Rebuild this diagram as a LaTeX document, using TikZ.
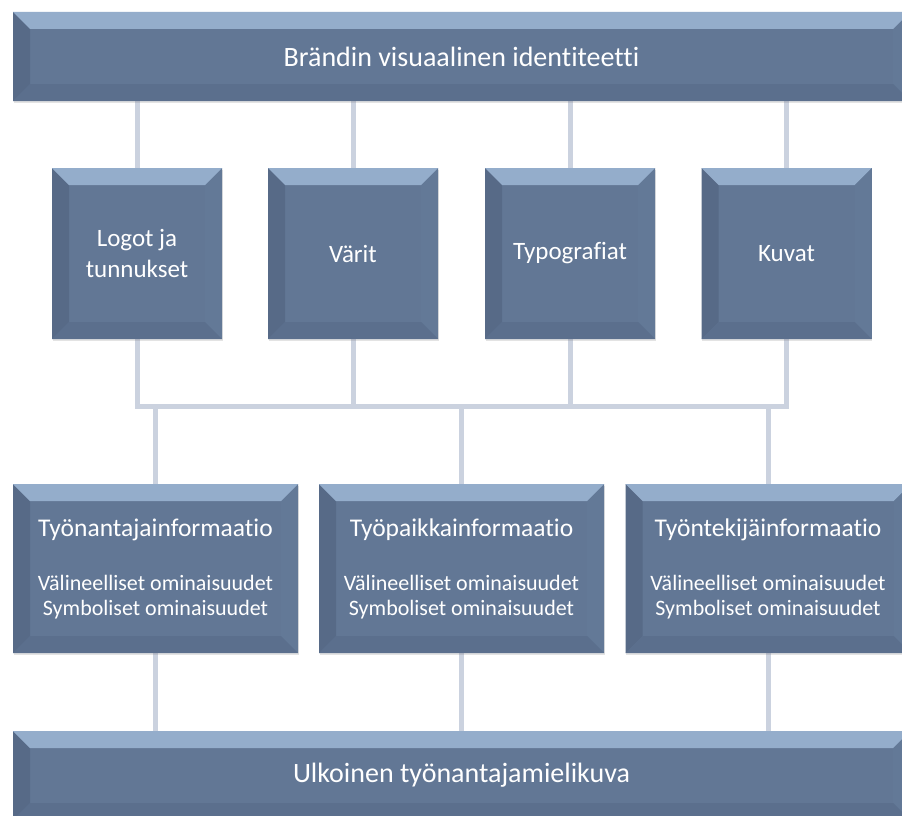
\documentclass[tikz,border=0pt]{standalone}
\usepackage{fontspec}
\setmainfont[Ligatures=NoCommon]{Carlito}
\usetikzlibrary{shadows}

\definecolor{face}{HTML}{627795}
\definecolor{bevtop}{HTML}{94ADCB}
\definecolor{bevleft}{HTML}{576A87}
\definecolor{bevright}{HTML}{637997}
\definecolor{bevbottom}{HTML}{5B6F8D}
\definecolor{linkcol}{HTML}{CBD2DF}

\pgfdeclarelayer{bg}
\pgfsetlayers{bg,main}

\tikzset{
  bevelbox/.style={
    rectangle, fill=face, inner sep=0pt, text=white, align=center,
    drop shadow={shadow xshift=0.6pt, shadow yshift=-2.2pt, opacity=0.22},
    path picture={
      % left face
      \fill[bevleft] (path picture bounding box.north west)
        -- ([xshift=17pt,yshift=-17pt]path picture bounding box.north west)
        -- ([xshift=17pt,yshift=17pt]path picture bounding box.south west)
        -- (path picture bounding box.south west) -- cycle;
      % right face
      \fill[bevright] (path picture bounding box.north east)
        -- (path picture bounding box.south east)
        -- ([xshift=-17pt,yshift=17pt]path picture bounding box.south east)
        -- ([xshift=-17pt,yshift=-17pt]path picture bounding box.north east) -- cycle;
      % bottom face
      \fill[bevbottom] (path picture bounding box.south west)
        -- (path picture bounding box.south east)
        -- ([xshift=-17pt,yshift=17pt]path picture bounding box.south east)
        -- ([xshift=17pt,yshift=17pt]path picture bounding box.south west) -- cycle;
      % top face
      \fill[bevtop] (path picture bounding box.north west)
        -- (path picture bounding box.north east)
        -- ([xshift=-17pt,yshift=-17pt]path picture bounding box.north east)
        -- ([xshift=17pt,yshift=-17pt]path picture bounding box.north west) -- cycle;
    }},
  bar/.style={bevelbox, minimum width=897pt, minimum height=89pt,
    font=\fontsize{28}{33}\selectfont},
  tile/.style={bevelbox, minimum width=170pt, minimum height=171pt,
    font=\fontsize{25}{31}\selectfont},
  infobox/.style={bevelbox, minimum width=285pt, minimum height=169pt,
    font=\fontsize{22}{25}\selectfont},
  link/.style={linkcol, line width=5pt, line join=miter},
}

\newcommand{\infohead}[1]{{\fontsize{25.5}{30}\selectfont #1}}

\begin{document}
\begin{tikzpicture}[x=1pt, y=-1pt]
  \clip (0,0) rectangle (902,816);

  % bars and tiles
  \node[bar] (top) at (461.5,56.5) {Brändin visuaalinen identiteetti};

  \node[tile] (s1) at (137,253.5) {Logot ja\\tunnukset};
  \node[tile] (s2) at (353,253.5) {Värit};
  \node[tile] (s3) at (570,253.5) {Typografiat};
  \node[tile] (s4) at (786.5,253.5) {Kuvat};

  \node[infobox] (m1) at (155.5,568.5)
    {\infohead{Työnantajainformaatio}\\[29pt]Välineelliset ominaisuudet\\Symboliset ominaisuudet};
  \node[infobox] (m2) at (461.5,568.5)
    {\infohead{Työpaikkainformaatio}\\[29pt]Välineelliset ominaisuudet\\Symboliset ominaisuudet};
  \node[infobox] (m3) at (768,568.5)
    {\infohead{Työntekijäinformaatio}\\[29pt]Välineelliset ominaisuudet\\Symboliset ominaisuudet};

  \node[bar] (bottom) at (461.5,775.5) {Ulkoinen työnantajamielikuva};

  \coordinate (bus) at (0,406);

  % connectors behind the boxes
  \begin{pgfonlayer}{bg}
    \fill[white] (0,0) rectangle (902,816);
    \foreach \s in {s1,s2,s3,s4} {
      \draw[link] (top.south -| \s.north) -- (\s.north);
    }
    \draw[link] (s1.south) -- (s1.south |- bus) -- (s4.south |- bus) -- (s4.south);
    \draw[link] (s2.south) -- (s2.south |- bus);
    \draw[link] (s3.south) -- (s3.south |- bus);
    \foreach \m in {m1,m2,m3} {
      \draw[link] (\m.north |- bus) -- (\m.north);
      \draw[link] (\m.south) -- (bottom.north -| \m.south);
    }
  \end{pgfonlayer}
\end{tikzpicture}
\end{document}
